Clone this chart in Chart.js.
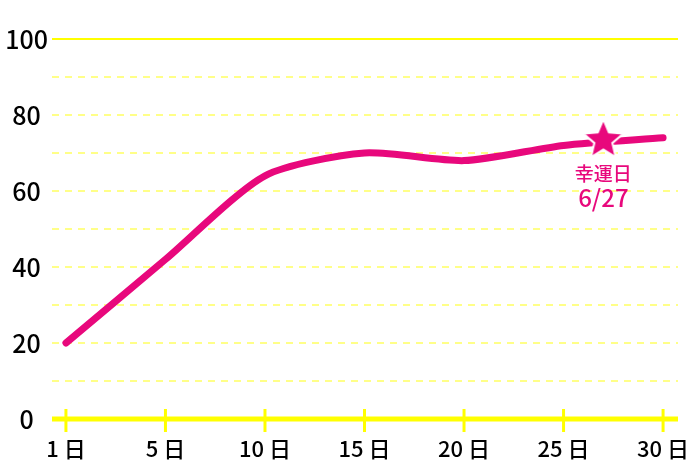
<!DOCTYPE html>
<html lang="ja">
<head>
<meta charset="utf-8">
<script src="https://cdn.jsdelivr.net/npm/chart.js@4.4.0/dist/chart.umd.min.js"></script>
<style>
  html, body { margin: 0; padding: 0; background: #fff; }
  #wrap { width: 700px; height: 467px; }
</style>
</head>
<body>
<div id="wrap"><canvas id="chart"></canvas></div>
<script>
const dayLabels = ['1 日', '5 日', '10 日', '15 日', '20 日', '25 日', '30 日'];
const values = [20, 42, 64, 70, 68, 72, 74];
const luckyPos = 5.4; // 27日 = 25日と30日の間
const luckyValue = 73.4;
const luckyText = ['幸運日', '6/27'];

const PINK = '#e8087c';
const YELLOW = '#ffff00';
const PALE = '#ffff88';
const FONT = '"Noto Sans CJK JP", "Noto Sans", sans-serif';

function makeStar(r) {
    const size = Math.ceil(r * 2 + 6);
    const c = document.createElement('canvas');
    c.width = size;
    c.height = size;
    const g = c.getContext('2d');
    const cx = size / 2, cy = size / 2;
    g.beginPath();
    for (let i = 0; i < 10; i++) {
        const rad = i % 2 === 0 ? r : r * 0.45;
        const a = -Math.PI / 2 + i * Math.PI / 5;
        g.lineTo(cx + rad * Math.cos(a), cy + rad * Math.sin(a));
    }
    g.closePath();
    g.fillStyle = PINK;
    g.fill();
    g.lineWidth = 2;
    g.strokeStyle = '#fff';
    g.stroke();
    return c;
}

// 0 と 100 の実線、x軸の目盛り線、幸運日のラベル
const decor = {
    id: 'decor',
    beforeDatasetsDraw(chart) {
        const { ctx, chartArea } = chart;
        const xs = chart.scales.x, ys = chart.scales.y;
        ctx.save();
        ctx.strokeStyle = YELLOW;
        ctx.lineWidth = 2;
        const top = ys.getPixelForValue(100);
        ctx.beginPath();
        ctx.moveTo(chartArea.left, top);
        ctx.lineTo(chartArea.right, top);
        ctx.stroke();

        const base = ys.getPixelForValue(0);
        ctx.lineWidth = 5;
        ctx.beginPath();
        ctx.moveTo(chartArea.left, base);
        ctx.lineTo(chartArea.right, base);
        ctx.stroke();

        ctx.lineWidth = 3;
        dayLabels.forEach((_, i) => {
            const x = xs.getPixelForValue(i);
            ctx.beginPath();
            ctx.moveTo(x, base - 10);
            ctx.lineTo(x, base + 13);
            ctx.stroke();
        });
        ctx.restore();
    },
    afterDatasetsDraw(chart) {
        const { ctx } = chart;
        const x = chart.scales.x.getPixelForValue(luckyPos);
        const y = chart.scales.y.getPixelForValue(luckyValue);
        ctx.save();
        ctx.fillStyle = PINK;
        ctx.textAlign = 'center';
        ctx.textBaseline = 'middle';
        ctx.font = '500 19px ' + FONT;
        ctx.fillText(luckyText[0], x, y + 34);
        ctx.font = '500 24px ' + FONT;
        ctx.fillText(luckyText[1], x, y + 58);
        ctx.restore();
    }
};

new Chart(document.getElementById('chart'), {
    type: 'line',
    data: {
        datasets: [
            {
                data: [{ x: luckyPos, y: luckyValue }],
                pointStyle: makeStar(21),
                pointRadius: 21,
                showLine: false,
                order: 0
            },
            {
                data: values.map((v, i) => ({ x: i, y: v })),
                borderColor: PINK,
                borderWidth: 7,
                borderCapStyle: 'round',
                borderJoinStyle: 'round',
                pointRadius: 0,
                tension: 0.24,
                fill: false,
                order: 1
            }
        ]
    },
    options: {
        responsive: true,
        maintainAspectRatio: false,
        animation: false,
        layout: { padding: { top: 39, right: 21, left: 0, bottom: 0 } },
        plugins: { legend: { display: false }, tooltip: { enabled: false } },
        scales: {
            x: {
                type: 'linear',
                min: -0.14,
                max: 6.15,
                afterBuildTicks: s => { s.ticks = dayLabels.map((_, i) => ({ value: i })); },
                afterFit: s => { s.height = 48; s.paddingLeft = 0; s.paddingRight = 0; },
                ticks: {
                    callback: v => dayLabels[v],
                    color: '#000',
                    font: { family: FONT, size: 22, weight: 500 },
                    padding: 16,
                    maxRotation: 0,
                    autoSkip: false
                },
                grid: { display: false, drawTicks: false },
                border: { display: false }
            },
            y: {
                min: 0,
                max: 100,
                afterFit: s => { s.width = 52; },
                ticks: {
                    stepSize: 10,
                    callback: v => (v % 20 === 0 ? v : ''),
                    color: '#000',
                    font: { family: FONT, size: 25, weight: 500 },
                    crossAlign: 'center',
                    padding: 4
                },
                grid: {
                    drawTicks: false,
                    lineWidth: 2,
                    color: c => (c.tick.value === 0 || c.tick.value === 100 ? 'transparent' : PALE)
                },
                border: { display: false, dash: [7, 6] }
            }
        }
    },
    plugins: [decor]
});
</script>
</body>
</html>
